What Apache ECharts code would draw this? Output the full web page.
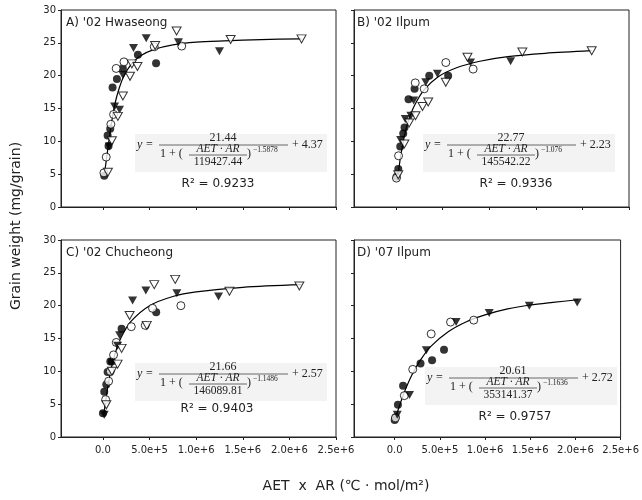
<!DOCTYPE html>
<html>
<head>
<meta charset="utf-8">
<script src="https://cdn.jsdelivr.net/npm/echarts@6/dist/echarts.min.js"></script>
<style>
html, body { margin: 0; padding: 0; background: #fff; }
#main { width: 642px; height: 500px; }
</style>
</head>
<body>
<div id="main"></div>
<script>
// shared x ticks (AET x AR)
var xTicks = [0, 500000, 1000000, 1500000, 2000000, 2500000];

// A) '02 Hwaseong
var hwFilledCircle = [[14000, 4.75], [50000, 10.9], [60000, 9.3], [78000, 11.9], [103000, 18.2], [150000, 19.5], [214000, 21.1], [375000, 23.2], [570000, 21.9]];
var hwOpenCircle = [[10000, 5.2], [35000, 7.6], [85000, 12.6], [114000, 14.1], [142000, 21.1], [225000, 22.1], [550000, 24.4], [845000, 24.5]];
var hwFilledTri = [[67000, 9.2], [125000, 15.3], [178000, 14.8], [214000, 20.1], [328000, 24.2], [464000, 25.7], [810000, 25.1], [1250000, 23.7]];
var hwOpenTri = [[53000, 5.3], [96000, 10.1], [160000, 13.8], [214000, 16.9], [290000, 19.9], [310000, 21.8], [370000, 21.4], [560000, 24.6], [790000, 26.8], [1370000, 25.5], [2130000, 25.6]];
var hwCurve = [[10000, 4.8], [20000, 5.6], [30000, 6.5], [50000, 8.6], [75000, 11.2], [100000, 13.5], [130000, 15.8], [170000, 17.9], [220000, 19.8], [300000, 21.7], [400000, 23.0], [550000, 24.0], [750000, 24.7], [1000000, 25.1], [1300000, 25.3], [1700000, 25.5], [2130000, 25.6]];

// B) '02 Ilpum
var ip02FilledCircle = [[7000, 4.6], [25000, 5.8], [46000, 9.2], [78000, 11.2], [92000, 12.1], [135000, 16.4], [200000, 18.0], [357000, 20.0], [560000, 20.0]];
var ip02OpenCircle = [[5000, 4.4], [28000, 7.8], [207000, 18.9], [303000, 18.0], [535000, 22.0], [828000, 21.0]];
var ip02FilledTri = [[50000, 10.2], [100000, 13.4], [160000, 13.9], [190000, 16.2], [320000, 19.0], [445000, 20.3], [800000, 22.0], [1230000, 22.2]];
var ip02OpenTri = [[25000, 4.9], [90000, 9.6], [142000, 12.8], [210000, 13.9], [285000, 15.3], [346000, 16.0], [535000, 19.0], [767000, 22.8], [1356000, 23.6], [2100000, 23.8]];
var ip02Curve = [[15000, 4.1], [20000, 4.6], [30000, 5.7], [50000, 7.7], [75000, 9.7], [100000, 11.4], [140000, 13.4], [200000, 15.5], [300000, 17.8], [450000, 19.8], [650000, 21.2], [900000, 22.2], [1200000, 22.9], [1600000, 23.4], [2100000, 23.8]];

// C) '02 Chucheong
var chFilledCircle = [[0, 3.6], [14000, 6.9], [36000, 8.0], [50000, 9.9], [79000, 11.5], [96000, 11.5], [200000, 16.5], [571000, 19.0]];
var chOpenCircle = [[29000, 5.7], [61000, 8.5], [79000, 10.0], [114000, 12.5], [143000, 14.4], [304000, 16.8], [454000, 17.0], [532000, 19.6], [836000, 20.0]];
var chFilledTri = [[14000, 3.4], [157000, 13.9], [179000, 15.5], [318000, 20.8], [460000, 22.3], [793000, 21.9], [1240000, 21.4]];
var chOpenTri = [[36000, 4.9], [96000, 10.0], [157000, 11.1], [200000, 13.5], [286000, 18.5], [470000, 17.0], [550000, 23.2], [775000, 24.0], [1357000, 22.2], [2107000, 23.0]];
var chCurve = [[10000, 3.5], [20000, 4.6], [30000, 5.6], [60000, 8.3], [100000, 11.1], [150000, 13.6], [200000, 15.3], [300000, 17.6], [500000, 20.0], [750000, 21.4], [1000000, 22.1], [1500000, 22.8], [2130000, 23.2]];

// D) '07 Ilpum
var ip07FilledCircle = [[0, 2.6], [11000, 3.0], [36000, 4.9], [93000, 7.8], [286000, 11.2], [414000, 11.7], [546000, 13.3]];
var ip07OpenCircle = [[8000, 2.9], [107000, 6.3], [200000, 10.3], [404000, 15.7], [618000, 17.5], [875000, 17.8]];
var ip07FilledTri = [[29000, 3.4], [164000, 6.4], [350000, 13.2], [680000, 17.5], [1046000, 18.9], [1490000, 20.0], [2020000, 20.5]];
var ip07OpenTri = [];
var ip07Curve = [[5000, 2.9], [20000, 3.4], [50000, 4.6], [100000, 6.6], [200000, 9.7], [300000, 12.0], [400000, 13.8], [600000, 16.1], [800000, 17.6], [1000000, 18.6], [1250000, 19.5], [1500000, 20.1], [1750000, 20.5], [2030000, 20.9]];

// panel texts
var panelNames = ["A) '02 Hwaseong", "B) '02 Ilpum", "C) '02 Chucheong", "D) '07 Ilpum"];
var eqNum = ['21.44', '22.77', '21.66', '20.61'];
var eqDen = ['119427.44', '145542.22', '146089.81', '353141.37'];
var eqExp = ['\u22121.5878', '\u22121.076', '\u22121.1486', '\u22121.1636'];
var eqAdd = ['4.37', '2.23', '2.57', '2.72'];
var r2Text = ['0.9233', '0.9336', '0.9403', '0.9757'];

var pointSets = [
  [hwFilledCircle, hwOpenCircle, hwFilledTri, hwOpenTri, hwCurve],
  [ip02FilledCircle, ip02OpenCircle, ip02FilledTri, ip02OpenTri, ip02Curve],
  [chFilledCircle, chOpenCircle, chFilledTri, chOpenTri, chCurve],
  [ip07FilledCircle, ip07OpenCircle, ip07FilledTri, ip07OpenTri, ip07Curve]
];

// layout
var gridLeft = [61, 354, 61, 354];
var gridTop = [10, 10, 240, 240];
var titleLeft = [66, 357, 66, 357];
var eqBox = [[135, 134], [423, 134], [135, 363], [425, 367]];
var r2Pos = [[218, 184], [516, 184], [217, 409], [515, 417]];

var SANS = 'DejaVu Sans';
var SERIF = 'Liberation Serif';
var INK = '#222';

function sci(v) {
  if (v === 0) return '0.0';
  var e = Math.round(Math.log10(v) - 0.349);
  var m = v / Math.pow(10, e);
  return m.toFixed(1) + 'e+' + e;
}

var grids = [], xAxes = [], yAxes = [], series = [], graphics = [];

for (var i = 0; i < 4; i++) {
  grids.push({
    left: gridLeft[i], top: gridTop[i], width: 275, height: 197,
    show: true, borderColor: INK, borderWidth: 1, backgroundColor: 'transparent'
  });
  xAxes.push({
    gridIndex: i, type: 'value', min: -450000, max: 2500000,
    axisLine: { show: true, onZero: false, lineStyle: { color: INK } },
    axisTick: { show: true, customValues: xTicks, length: 3, lineStyle: { color: INK } },
    axisLabel: {
      show: i >= 2, customValues: xTicks, formatter: sci,
      fontSize: 10, color: INK, margin: 8, fontFamily: SANS
    },
    splitLine: { show: false }
  });
  yAxes.push({
    gridIndex: i, type: 'value', min: 0, max: 30, interval: 5,
    axisLine: { show: true, onZero: false, lineStyle: { color: INK } },
    axisTick: { show: true, length: 3, lineStyle: { color: INK } },
    axisLabel: { show: i % 2 === 0, fontSize: 10, color: INK, margin: 5, fontFamily: SANS },
    splitLine: { show: false }
  });

  var s = pointSets[i];
  //拟合曲线
  series.push({
    type: 'line', xAxisIndex: i, yAxisIndex: i, data: s[4],
    showSymbol: false, smooth: 0.3, lineStyle: { color: '#000', width: 1.2 }, z: 2
  });
  series.push({
    type: 'scatter', xAxisIndex: i, yAxisIndex: i, data: s[0],
    symbol: 'circle', symbolSize: 8, itemStyle: { color: '#000' }, z: 3
  });
  series.push({
    type: 'scatter', xAxisIndex: i, yAxisIndex: i, data: s[1],
    symbol: 'circle', symbolSize: 8,
    itemStyle: { color: '#fff', borderColor: '#000', borderWidth: 1 }, z: 3
  });
  series.push({
    type: 'scatter', xAxisIndex: i, yAxisIndex: i, data: s[2],
    symbol: 'triangle', symbolRotate: 180, symbolSize: [9, 8],
    itemStyle: { color: '#000' }, z: 3
  });
  series.push({
    type: 'scatter', xAxisIndex: i, yAxisIndex: i, data: s[3],
    symbol: 'triangle', symbolRotate: 180, symbolSize: [9, 8],
    itemStyle: { color: '#fff', borderColor: '#000', borderWidth: 1 }, z: 3
  });

  // panel title
  graphics.push({
    type: 'text', z: 10,
    style: {
      text: panelNames[i], x: titleLeft[i], y: gridTop[i] + 13,
      textVerticalAlign: 'middle', font: '12px ' + SANS, fill: INK
    }
  });

  // equation
  var bx = eqBox[i][0], by = eqBox[i][1];
  graphics.push({ type: 'rect', z: 5, shape: { x: bx, y: by, width: 192, height: 38 }, style: { fill: '#f3f3f3' } });
  var txt = function (t, x, y, font, align) {
    graphics.push({
      type: 'text', z: 10,
      style: { text: t, x: x, y: y, font: font, fill: INK, textAlign: align || 'left', textVerticalAlign: 'middle' }
    });
  };
  var ln = function (x1, x2, y) {
    graphics.push({ type: 'line', z: 10, shape: { x1: x1, y1: y, x2: x2, y2: y }, style: { stroke: '#444', lineWidth: 0.8 } });
  };
  txt('y', bx + 2, by + 11, 'italic 12px ' + SERIF);
  txt('=', bx + 11, by + 11, '12px ' + SERIF);
  txt(eqNum[i], bx + 88, by + 4, '12px ' + SERIF, 'center');
  ln(bx + 24, bx + 153, by + 11);
  txt('1 + (', bx + 25, by + 20, '12px ' + SERIF);
  txt('AET \u00b7 AR', bx + 83, by + 15, 'italic 11.5px ' + SERIF, 'center');
  ln(bx + 54, bx + 112, by + 21);
  txt(eqDen[i], bx + 83, by + 28, '11.5px ' + SERIF, 'center');
  txt(')', bx + 112, by + 20, '12px ' + SERIF);
  txt(eqExp[i], bx + 118, by + 16, '7.5px ' + SERIF);
  txt('+ ' + eqAdd[i], bx + 157, by + 11, '12px ' + SERIF);
  txt('R\u00b2 = ' + r2Text[i], r2Pos[i][0], r2Pos[i][1], '12px ' + SANS, 'center');
}

// axis names
graphics.push({
  type: 'text', x: 16, y: 226, rotation: Math.PI / 2,
  style: { text: 'Grain weight (mg/grain)', x: 0, y: 0, font: '14px ' + SANS, fill: INK, textAlign: 'center', textVerticalAlign: 'middle' }
});
graphics.push({
  type: 'text',
  style: { text: 'AET  x  AR (\u2103 \u00b7 mol/m\u00b2)', x: 346, y: 486, font: '14px ' + SANS, fill: INK, textAlign: 'center', textVerticalAlign: 'middle' }
});

var chart = echarts.init(document.getElementById('main'), null, { renderer: 'canvas' });
chart.setOption({
  animation: false,
  backgroundColor: '#fff',
  grid: grids,
  xAxis: xAxes,
  yAxis: yAxes,
  series: series,
  graphic: graphics
});
</script>
</body>
</html>
